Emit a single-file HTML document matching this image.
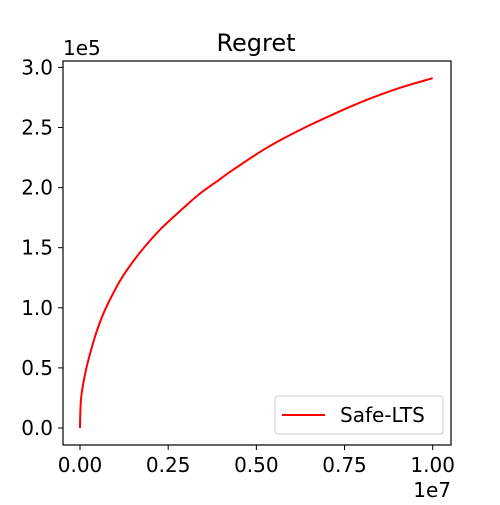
<!DOCTYPE html>
<html><head><meta charset="utf-8"><style>
body{margin:0;background:#fff;}
svg text{font-family:"DejaVu Sans","Liberation Sans",sans-serif;fill:#000;}
</style></head><body>
<svg id="chart" width="500" height="500" viewBox="0 0 500 500">
<text x="256" y="51" font-size="24" text-anchor="middle">Regret</text>
<text x="63" y="55" font-size="20">1e5</text>
<text x="451" y="497" font-size="20" text-anchor="end">1e7</text>
<g id="axes"></g>
<rect x="63" y="61" width="388" height="384" fill="none" stroke="#000" stroke-width="1.2"/>
<g>
<rect x="275" y="396" width="168" height="38" rx="3" fill="#fff" stroke="#ccc"/>
<line x1="282" y1="415" x2="325" y2="415" stroke="#f00" stroke-width="2"/>
<text x="340" y="422" font-size="20">Safe-LTS</text>
</g>
</svg>
<script>
const xTicks=[0,0.25,0.5,0.75,1.0];
const xTickLabels=["0.00","0.25","0.50","0.75","1.00"];
const yTicks=[0,0.5,1.0,1.5,2.0,2.5,3.0];
const yTickLabels=["0.0","0.5","1.0","1.5","2.0","2.5","3.0"];
const seriesX=[0,0.0012,0.0048,0.019,0.0425,0.066,0.094,0.123,0.17,0.227,0.293,0.34,0.392,0.435,0.529,0.624,0.718,0.813,0.907,1.0];
const seriesY=[0,0.15,0.29,0.51,0.76,0.95,1.12,1.27,1.46,1.65,1.83,1.95,2.06,2.15,2.33,2.48,2.61,2.73,2.83,2.91];
const sx=v=>80+v*352.7;
const sy=v=>428-v*120.2;
const NS="http://www.w3.org/2000/svg";
const ax=document.getElementById('axes');
xTicks.forEach((t,i)=>{
 const l=document.createElementNS(NS,'line');
 l.setAttribute('x1',sx(t));l.setAttribute('x2',sx(t));l.setAttribute('y1',445);l.setAttribute('y2',450);l.setAttribute('stroke','#000');
 
 
 ax.appendChild(l);
 const tx=document.createElementNS(NS,'text');
 tx.setAttribute('x',sx(t));tx.setAttribute('y',472);tx.setAttribute('font-size','20');tx.setAttribute('text-anchor','middle');
 tx.textContent=xTickLabels[i];
 
 
 ax.appendChild(tx);
});
yTicks.forEach((t,i)=>{
 const l=document.createElementNS(NS,'line');
 l.setAttribute('x1',58);l.setAttribute('x2',63);l.setAttribute('y1',sy(t));l.setAttribute('y2',sy(t));l.setAttribute('stroke','#000');
 
 
 ax.appendChild(l);
 const tx=document.createElementNS(NS,'text');
 tx.setAttribute('x',53);tx.setAttribute('y',sy(t)+7);tx.setAttribute('font-size','20');tx.setAttribute('text-anchor','end');
 tx.textContent=yTickLabels[i];
 
 
 ax.appendChild(tx);
});
const pts=seriesX.map((x,i)=>[sx(x),sy(seriesY[i])]);
let d='M'+pts[0][0]+','+pts[0][1];
for(let i=0;i<pts.length-1;i++){
 const p0=pts[Math.max(0,i-1)],p1=pts[i],p2=pts[i+1],p3=pts[Math.min(pts.length-1,i+2)];
 const c1=[p1[0]+(p2[0]-p0[0])/6,p1[1]+(p2[1]-p0[1])/6];
 const c2=[p2[0]-(p3[0]-p1[0])/6,p2[1]-(p3[1]-p1[1])/6];
 d+=' C'+c1[0]+','+c1[1]+' '+c2[0]+','+c2[1]+' '+p2[0]+','+p2[1];
}
const p=document.createElementNS(NS,'path');
p.setAttribute('d',d);
p.setAttribute('fill','none');p.setAttribute('stroke','#f00');p.setAttribute('stroke-width','2');p.setAttribute('stroke-linejoin','round');


ax.appendChild(p);
</script>
</body></html>
